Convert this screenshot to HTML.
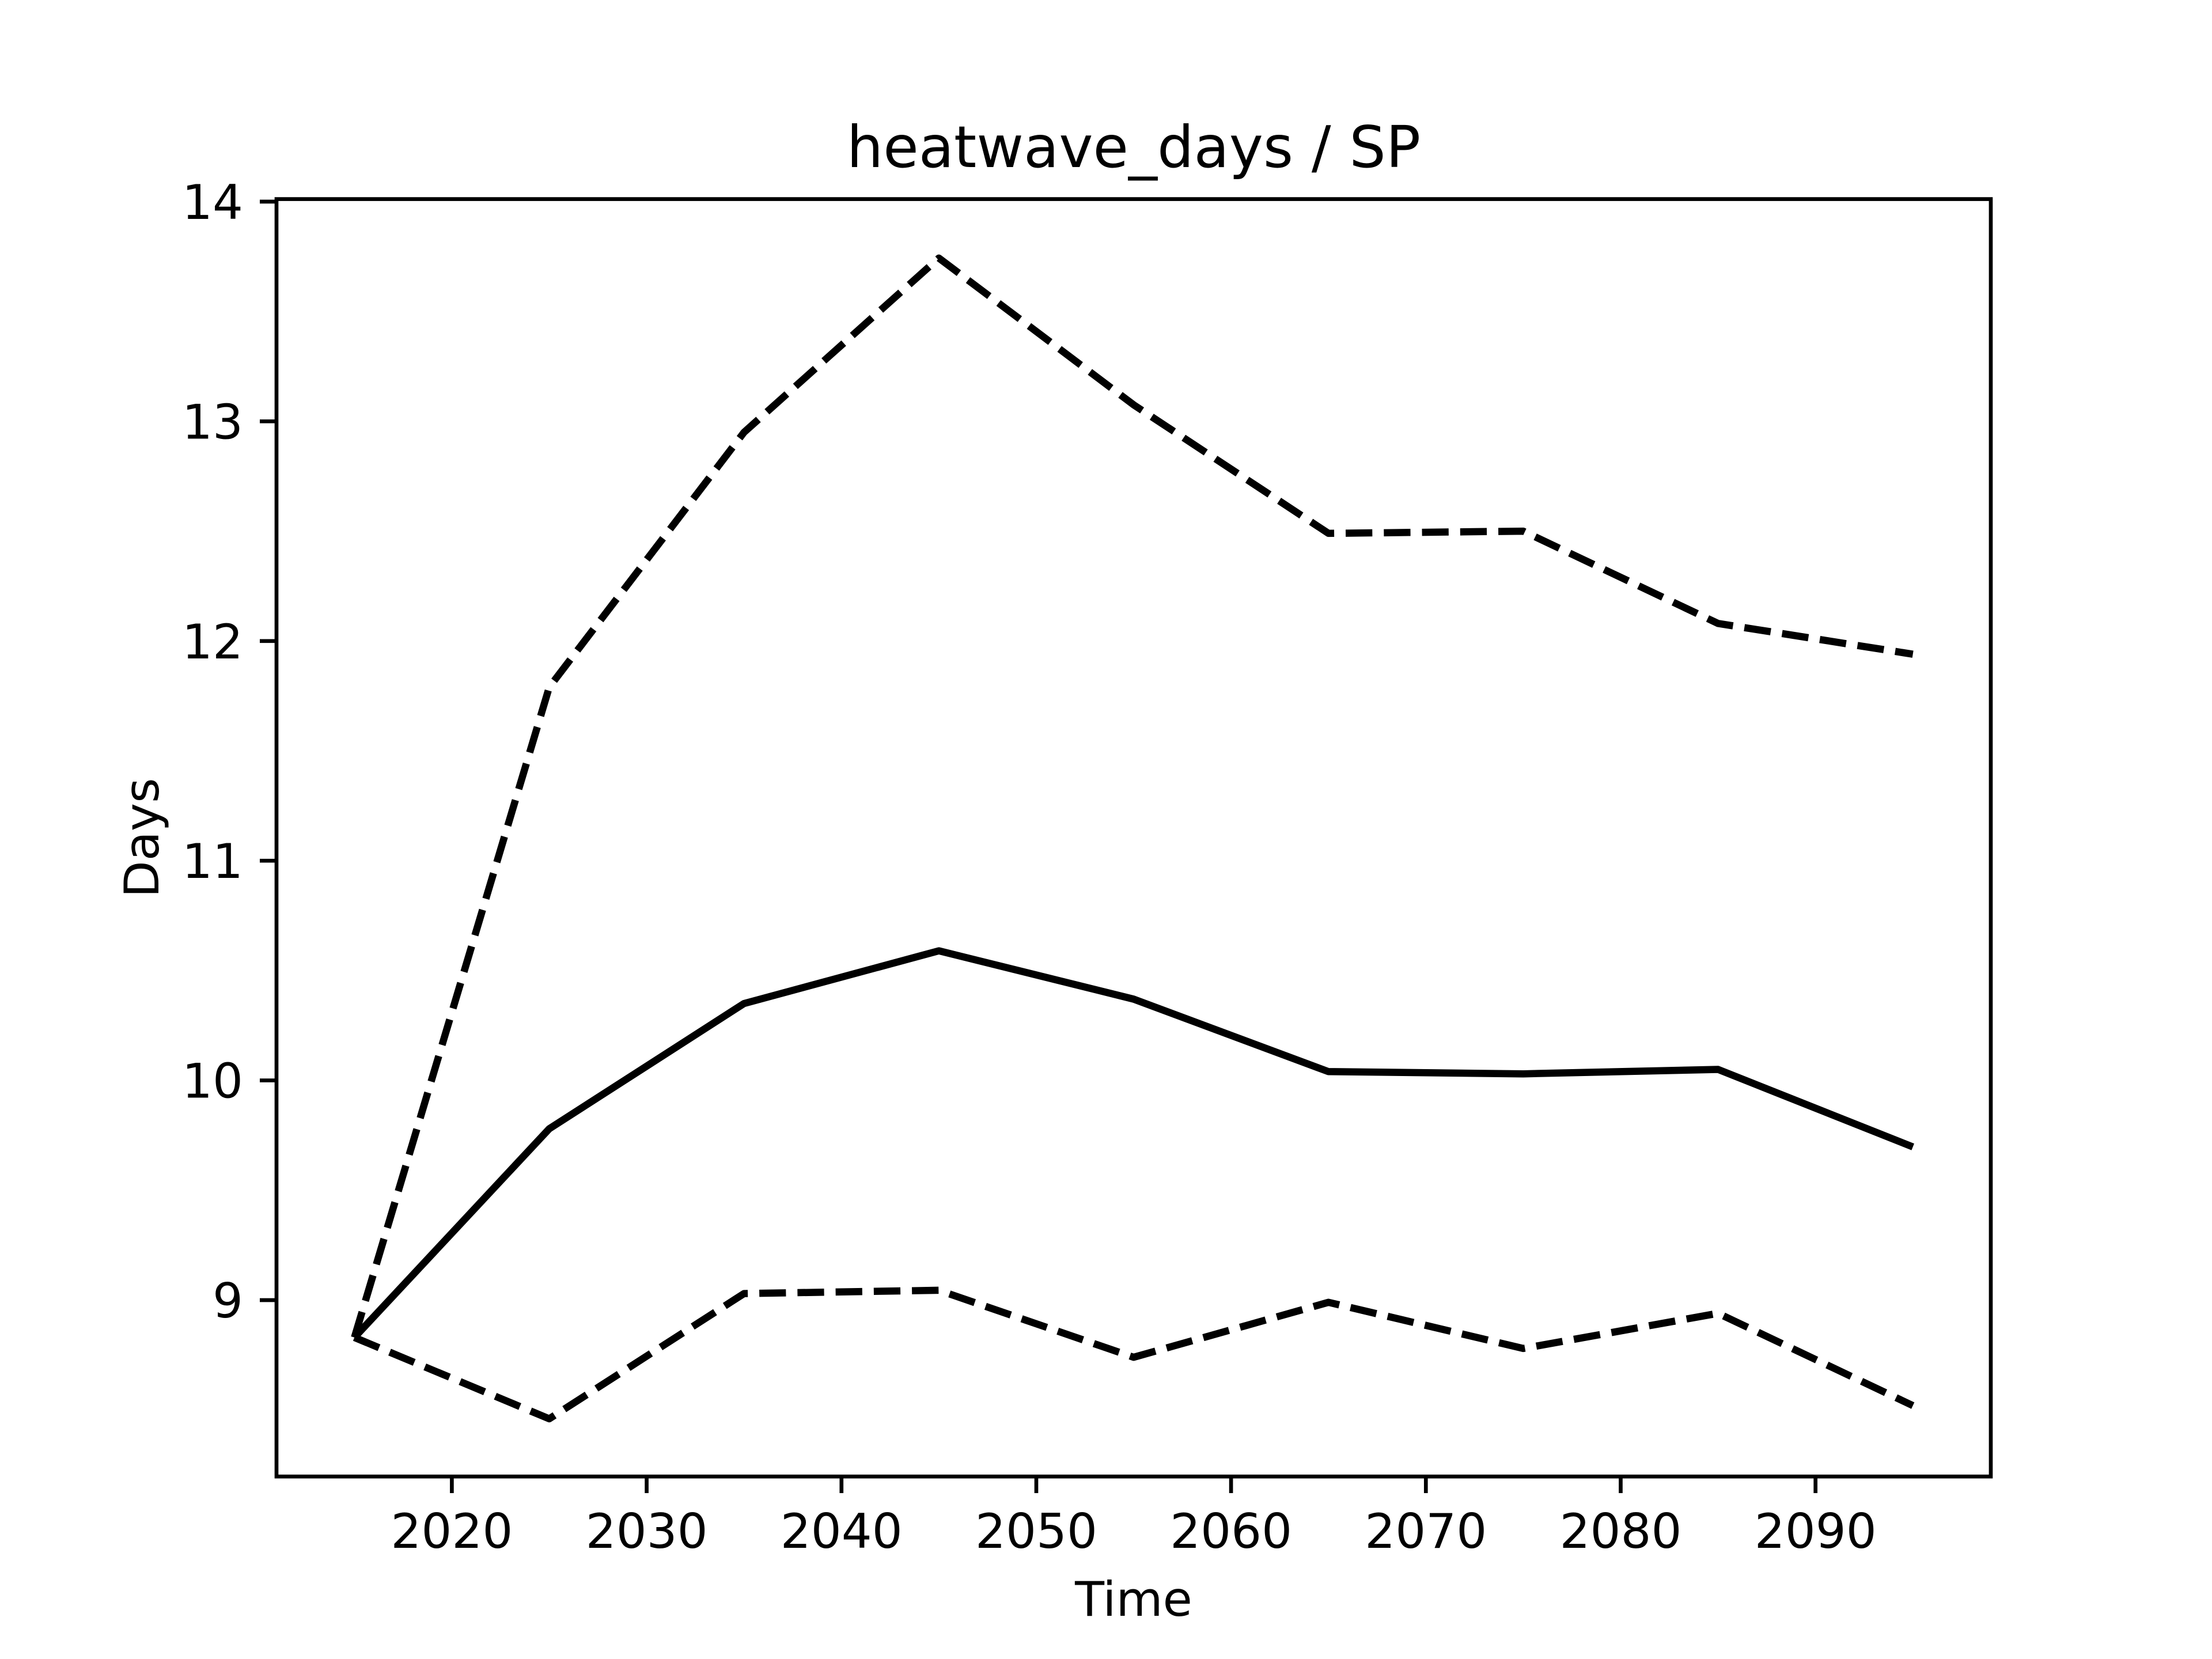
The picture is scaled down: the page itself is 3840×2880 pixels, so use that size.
<!DOCTYPE html>
<html><head><meta charset="utf-8"><style>html,body{margin:0;padding:0;background:#fff}svg{display:block}</style></head>
<body>
<svg width="3840" height="2880" viewBox="0 0 3840 2880" xmlns="http://www.w3.org/2000/svg" font-family="'DejaVu Sans','Liberation Sans',sans-serif">
<rect width="3840" height="2880" fill="#fff"/>
<g fill="none" stroke="#000" stroke-width="12.5" stroke-linejoin="round">
<polyline stroke-dasharray="46.25,20" points="615.3,2321.8 953.5,1192.9 1291.6,750.5 1629.8,448 1968,702.8 2306.2,925.9 2644.4,922.1 2982.5,1082.3 3320.7,1135.7"/>
<polyline points="615.3,2321.8 953.5,1959.5 1291.6,1742.1 1629.8,1650.6 1968,1734.5 2306.2,1860.3 2644.4,1864.2 2982.5,1856.5 3320.7,1991"/>
<polyline stroke-dasharray="46.25,20" points="615.3,2321.8 953.5,2463 1291.6,2245.6 1629.8,2239.9 1968,2356.2 2306.2,2260.8 2644.4,2340.9 2982.5,2279.9 3320.7,2440.1"/>
</g>
<rect x="480" y="345.6" width="2976" height="2217.6" fill="none" stroke="#000" stroke-width="6.67" stroke-linejoin="miter"/>
<g stroke="#000" stroke-width="6.67">
<line x1="784.4" y1="2563" x2="784.4" y2="2592"/>
<line x1="1122.6" y1="2563" x2="1122.6" y2="2592"/>
<line x1="1460.8" y1="2563" x2="1460.8" y2="2592"/>
<line x1="1799" y1="2563" x2="1799" y2="2592"/>
<line x1="2137.1" y1="2563" x2="2137.1" y2="2592"/>
<line x1="2475.3" y1="2563" x2="2475.3" y2="2592"/>
<line x1="2813.5" y1="2563" x2="2813.5" y2="2592"/>
<line x1="3151.7" y1="2563" x2="3151.7" y2="2592"/>
<line x1="451" y1="2257" x2="480" y2="2257"/>
<line x1="451" y1="1875.6" x2="480" y2="1875.6"/>
<line x1="451" y1="1494.2" x2="480" y2="1494.2"/>
<line x1="451" y1="1112.8" x2="480" y2="1112.8"/>
<line x1="451" y1="731.4" x2="480" y2="731.4"/>
<line x1="451" y1="350" x2="480" y2="350"/>
</g>
<g font-size="83.3" fill="#000" text-anchor="middle">
<text x="784.4" y="2687">2020</text>
<text x="1122.6" y="2687">2030</text>
<text x="1460.8" y="2687">2040</text>
<text x="1799" y="2687">2050</text>
<text x="2137.1" y="2687">2060</text>
<text x="2475.3" y="2687">2070</text>
<text x="2813.5" y="2687">2080</text>
<text x="3151.7" y="2687">2090</text>
</g>
<g font-size="83.3" fill="#000" text-anchor="end">
<text x="422" y="2287">9</text>
<text x="422" y="1905.6">10</text>
<text x="422" y="1524.2">11</text>
<text x="422" y="1142.8">12</text>
<text x="422" y="761.4">13</text>
<text x="422" y="380">14</text>
</g>
<text x="1968" y="2805" font-size="83.3" text-anchor="middle">Time</text>
<text transform="translate(275,1454.4) rotate(-90)" font-size="83.3" text-anchor="middle">Days</text>
<text x="1968" y="290" font-size="100" text-anchor="middle">heatwave_days / SP</text>
</svg>
</body></html>
